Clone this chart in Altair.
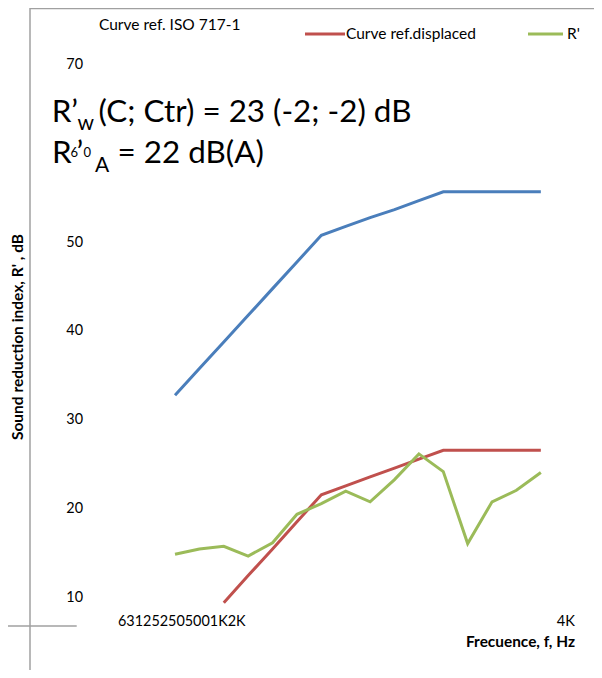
import altair as alt
import pandas as pd

# ---------------- data ----------------
freqs = [100, 125, 160, 200, 250, 315, 400, 500, 630, 800, 1000, 1250, 1600, 2000, 2500, 3150]
ref_iso = [32.6, 35.6, 38.6, 41.6, 44.6, 47.6, 50.6, 51.6, 52.6, 53.5, 54.5, 55.5, 55.5, 55.5, 55.5, 55.5]
ref_disp = [None, None, 9.25, 12.3, 15.3, 18.35, 21.4, 22.4, 23.4, 24.4, 25.4, 26.4, 26.4, 26.4, 26.4, 26.4]
measured = [14.7, 15.3, 15.6, 14.5, 16.0, 19.2, 20.4, 21.8, 20.6, 23.1, 26.0, 24.0, 15.9, 20.6, 21.9, 23.9]
y_ticks = [10, 20, 30, 40, 50, 70]
x_tick_labels = ["63", "125", "250", "500", "1K", "2K", "4K"]
series_names = ["Curve ref. ISO 717-1", "Curve ref.displaced", "R'"]
series_colors = ["#4A7EBB", "#C0504D", "#9BBB59"]

FONT = "Lato"
W, H = 586, 662

xs = alt.Scale(domain=[-6.848, 17.18], nice=False, zero=False)
ys = alt.Scale(domain=[1.670, 76.19], nice=False, zero=False)

rows = []
for i, f in enumerate(freqs):
    for name, vals in zip(series_names, [ref_iso, ref_disp, measured]):
        if vals[i] is not None:
            rows.append({"idx": i, "freq": f, "series": name, "value": vals[i]})
df = pd.DataFrame(rows)


def line(name, color):
    return alt.Chart(df[df.series == name]).mark_line(
        color=color, strokeWidth=3, clip=False
    ).encode(
        x=alt.X("idx:Q", scale=xs, axis=None),
        y=alt.Y("value:Q", scale=ys, axis=None),
        order="idx:Q",
    )


def txt(s, x, y, size, align="left", baseline="alphabetic", bold=False, angle=0):
    props = dict(font=FONT, fontSize=size, align=align, baseline=baseline,
                 color="#000000", fontWeight="bold" if bold else "normal")
    if angle:
        props["angle"] = angle
    return alt.Chart(pd.DataFrame({"t": [s]})).mark_text(**props).encode(
        text="t:N", x=alt.value(x), y=alt.value(y)
    )


def rule(x, x2, y, y2, color="#A0A0A0", w=1.5):
    return alt.Chart(pd.DataFrame({"a": [0]})).mark_rule(color=color, strokeWidth=w).encode(
        x=alt.value(x), x2=alt.value(x2), y=alt.value(y), y2=alt.value(y2)
    )


frame = [
    rule(22, 22, 0, H),
    rule(22, W, 0.5, 0.5),
    rule(0, 68.7, 618, 618),
]

lines = [line(n, c) for n, c in zip(series_names, series_colors)]

ylabels = alt.Chart(pd.DataFrame({"v": y_ticks})).mark_text(
    font=FONT, fontSize=14.4, align="right", baseline="middle", color="#000000", dy=2
).encode(x=alt.value(75), y=alt.Y("v:Q", scale=ys, axis=None), text="v:Q")

texts = [
    # legend
    txt(series_names[0], 91, 17, 15.5, baseline="middle"),
    rule(297, 337, 26, 26, color=series_colors[1], w=3),
    txt(series_names[1], 338, 26, 15.5, baseline="middle"),
    rule(520, 555, 26, 26, color=series_colors[2], w=3),
    txt(series_names[2], 559, 26, 15.5, baseline="middle"),
    # x tick labels
    txt("".join(x_tick_labels[:-1]), 110, 614, 14.4, baseline="middle"),
    txt(x_tick_labels[-1], 567, 614, 14.6, align="right", baseline="middle"),
    # axis titles
    txt("Frecuence, f, Hz", 567, 633.7, 15.4, align="right", baseline="middle", bold=True),
    txt("Sound reduction index, R' , dB", 9.5, 329, 15.5, align="center", baseline="middle",
        bold=True, angle=270),
    # results line 1
    txt("R\u2019", 43.7, 113.7, 31.4),
    txt("w", 69.5, 122, 21),
    txt("(C; Ctr) = 23 (-2; -2) dB", 90.5, 113.7, 31.4),
    # results line 2
    txt("R", 44, 154.7, 31.4),
    txt("6", 62.5, 149, 13),
    txt("\u2019", 68.5, 154.7, 31.4),
    txt("0", 75.5, 149, 13),
    txt("A", 87, 163.7, 21),
    txt("= 22 dB(A)", 109.5, 154.7, 31.4),
]

chart = alt.layer(*frame, *lines, ylabels, *texts).properties(
    width=W, height=H,
    autosize=alt.AutoSizeParams(type="none"),
    padding=0,
    background="#FFFFFF",
).configure_view(stroke=None)

chart.save("out.html", embed_options={"renderer": "svg", "actions": False})
